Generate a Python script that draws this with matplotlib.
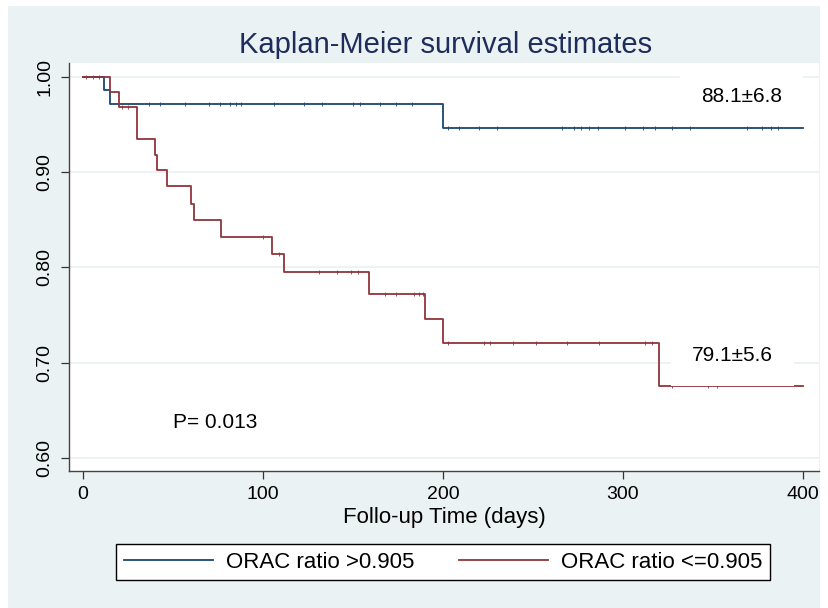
import numpy as np
import matplotlib
matplotlib.use("Agg")
from matplotlib import pyplot as plt
from matplotlib.patches import Rectangle

plt.rcParams['font.family'] = ['Liberation Sans', 'DejaVu Sans']

# survival steps, group 1 (ORAC ratio > 0.905)
hi_time = [0, 12, 15, 200, 400]
hi_surv = [1.0, 0.986, 0.972, 0.946, 0.946]
hi_cens = [37, 43, 57, 70, 76, 82, 85, 88, 106, 123, 133, 150, 154, 165, 174, 183,
           203, 209, 220, 230, 266, 273, 277, 281, 286, 301, 311, 318, 327, 337, 369, 377, 382, 386]

# survival steps, group 2 (ORAC ratio <= 0.905)
lo_time = [0, 15, 20, 30, 40, 41, 47, 60, 62, 77, 105, 112, 159, 190, 200, 320, 400]
lo_surv = [1.0, 0.984, 0.968, 0.935, 0.918, 0.902, 0.885, 0.867, 0.850, 0.832,
           0.814, 0.795, 0.772, 0.746, 0.720, 0.675, 0.675]
lo_cens = [2, 6, 9, 22, 25, 100, 109, 131, 141, 149, 153, 168, 174, 184, 187, 189,
           203, 223, 226, 239, 252, 269, 287, 312, 316, 327, 347, 352]

x_ticks = [0, 100, 200, 300, 400]
y_ticks = [0.60, 0.70, 0.80, 0.90, 1.00]

blue = '#1a476f'
red = '#90353b'
bg = '#eaf2f3'


def step_value(times, surv, t):
    idx = np.searchsorted(times, t, side='right') - 1
    return np.array(surv)[idx]


fig = plt.figure(figsize=(8.29, 6.08), dpi=100)
fig.patches.append(Rectangle((8 / 829, 0), 812 / 829, 602 / 608, transform=fig.transFigure,
                             facecolor=bg, edgecolor='none', zorder=-5))

ax = fig.add_axes([69 / 829, 137 / 608, 750 / 829, 408 / 608])
ax.set_facecolor('white')

ax.step(hi_time, hi_surv, where='post', color=blue, lw=1.3, zorder=2, label='ORAC ratio >0.905')
ax.plot(hi_cens, step_value(hi_time, hi_surv, hi_cens), ls='none', marker='|',
        ms=2.5, mew=0.6, color=blue, zorder=2)
ax.step(lo_time, lo_surv, where='post', color=red, lw=1.3, zorder=2, label='ORAC ratio <=0.905')
ax.plot(lo_cens, step_value(lo_time, lo_surv, lo_cens), ls='none', marker='|',
        ms=2.5, mew=0.6, color=red, zorder=2)

ax.set_xlim(-7.6, 408.9)
ax.set_ylim(0.586, 1.0147)
ax.set_xticks(x_ticks)
ax.set_yticks(y_ticks)
ax.set_yticklabels([f'{v:.2f}' for v in y_ticks], rotation=90, va='center')
ax.tick_params(axis='both', labelsize=14, length=6, width=0.9, color='#333333', pad=5)
ax.grid(axis='y', color=bg, lw=1.3, zorder=0)
ax.set_axisbelow(True)

for s in ['top', 'right']:
    ax.spines[s].set_visible(False)
for s in ['left', 'bottom']:
    ax.spines[s].set_color('#444444')
    ax.spines[s].set_linewidth(1.0)

ax.set_xlabel('Follo-up Time (days)', fontsize=16, labelpad=3)
fig.text(0.5 * (236 + 655) / 829, 1 - 45 / 608, 'Kaplan-Meier survival estimates',
         ha='center', va='center', fontsize=21, color='#1e2d5a')

box = dict(boxstyle='square,pad=1.0', facecolor='white', edgecolor='none')
ax.text(366, 0.980, '88.1\u00b16.8', ha='center', va='center', fontsize=15, bbox=box, zorder=3)
ax.text(361, 0.707, '79.1\u00b15.6', ha='center', va='center', fontsize=15, bbox=box, zorder=3)
ax.text(50, 0.637, 'P= 0.013', ha='left', va='center', fontsize=15, zorder=3)

leg = fig.legend(loc='center', bbox_to_anchor=(443 / 829, 1 - 562 / 608), ncol=2,
                 fontsize=16, handlelength=4.0, handletextpad=0.6, columnspacing=2.0,
                 fancybox=False, framealpha=1, edgecolor='black', borderpad=0.35)
leg.get_frame().set_linewidth(1.0)

fig.savefig('out.png', dpi=100, facecolor='white')
